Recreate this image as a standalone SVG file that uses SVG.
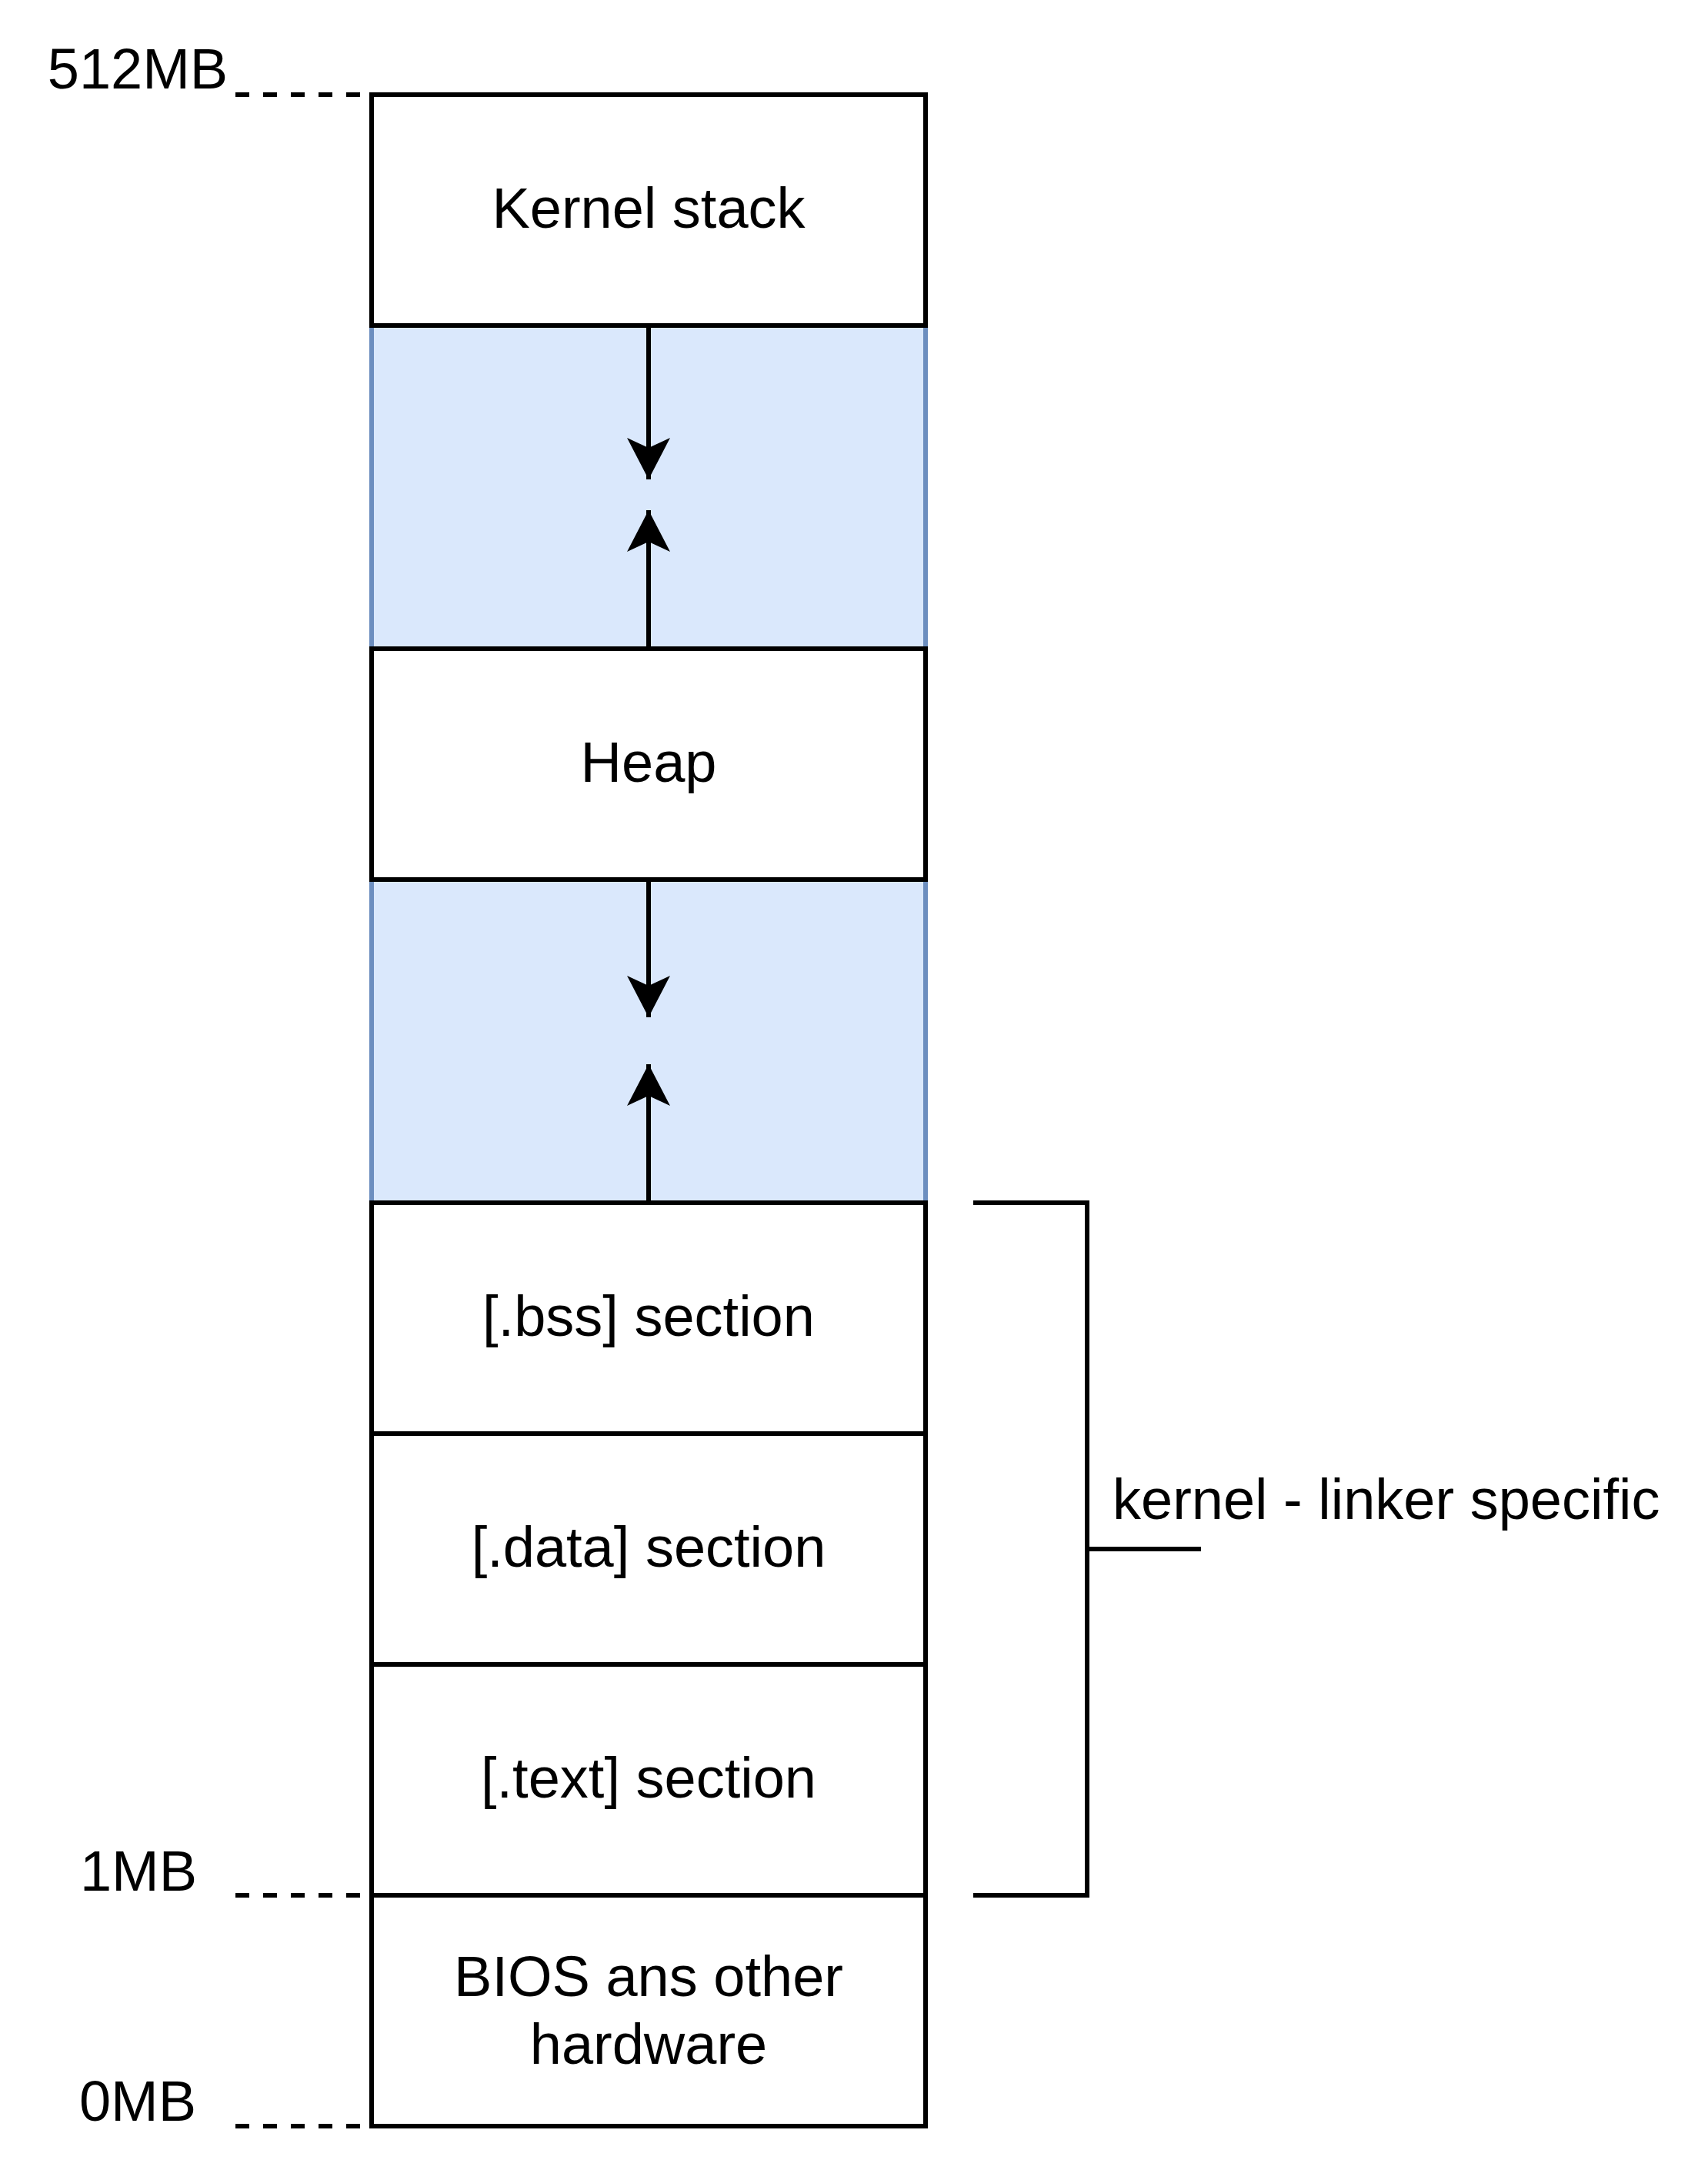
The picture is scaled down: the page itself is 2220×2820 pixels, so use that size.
<svg xmlns="http://www.w3.org/2000/svg" width="2220" height="2820" viewBox="0 0 2220 2820">
<style>
text{font-family:"Liberation Sans",Arial,sans-serif;font-size:74px;fill:#000}
.c{text-anchor:middle}
.box{fill:#fff;stroke:#000;stroke-width:6}
.free{fill:#dae8fc;stroke:#6c8ebf;stroke-width:6}
.ln{fill:none;stroke:#000;stroke-width:6}
.dash{fill:none;stroke:#000;stroke-width:6;stroke-dasharray:18 18}
</style>
<defs>
<marker id="arr" viewBox="0 0 54 56" markerWidth="54" markerHeight="56" refX="54" refY="28" orient="auto" markerUnits="userSpaceOnUse">
<path d="M0,0 L54,28 L0,56 L13,28 Z" fill="#000"/>
</marker>
</defs>
<rect width="2220" height="2820" fill="#fff"/>
<g id="free-upper"><rect class="free" x="483" y="423" width="720" height="420"/></g>
<g id="free-lower"><rect class="free" x="483" y="1143" width="720" height="420"/></g>
<g id="kernel-stack"><rect class="box" x="483" y="123" width="720" height="300"/><text class="c" x="843" y="296">Kernel stack</text></g>
<g id="heap"><rect class="box" x="483" y="843" width="720" height="300"/><text class="c" x="843" y="1016">Heap</text></g>
<g id="bss"><rect class="box" x="483" y="1563" width="720" height="300"/><text class="c" x="843" y="1736">[.bss] section</text></g>
<g id="data"><rect class="box" x="483" y="1863" width="720" height="300"/><text class="c" x="843" y="2036">[.data] section</text></g>
<g id="text-sec"><rect class="box" x="483" y="2163" width="720" height="300"/><text class="c" x="843" y="2336">[.text] section</text></g>
<g id="bios"><rect class="box" x="483" y="2463" width="720" height="300"/><text class="c" x="843" y="2594">BIOS ans other</text><text class="c" x="843" y="2682">hardware</text></g>
<g id="labels">
<text class="c" x="179" y="115">512MB</text>
<path class="dash" d="M306,123 H470"/>
<text class="c" x="180" y="2457">1MB</text>
<path class="dash" d="M306,2463 H470"/>
<text class="c" x="179" y="2756">0MB</text>
<path class="dash" d="M306,2763 H470"/>
</g>
<g id="bracket">
<path class="ln" d="M1265,1563 H1413 V2463 H1265 M1413,2013 H1561"/>
<text x="1446" y="1974">kernel - linker specific</text>
</g>
<g id="connectors">
<line class="ln" x1="843" y1="426" x2="843" y2="623" marker-end="url(#arr)"/>
<line class="ln" x1="843" y1="840" x2="843" y2="663" marker-end="url(#arr)"/>
<line class="ln" x1="843" y1="1146" x2="843" y2="1322" marker-end="url(#arr)"/>
<line class="ln" x1="843" y1="1560" x2="843" y2="1383" marker-end="url(#arr)"/>
</g>
</svg>
